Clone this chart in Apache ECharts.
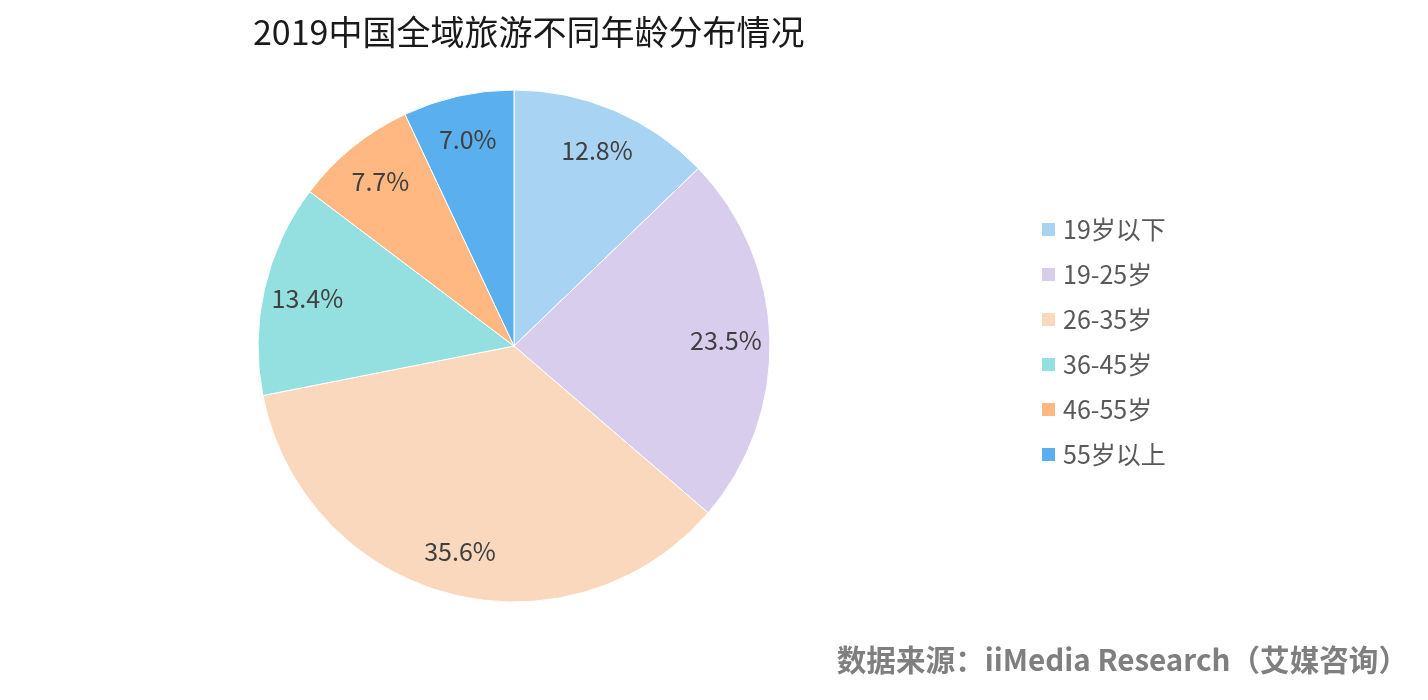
<!DOCTYPE html>
<html><head><meta charset="utf-8">
<script src="https://cdn.jsdelivr.net/npm/echarts@6/dist/echarts.min.js"></script>
<style>html,body{margin:0;padding:0;background:#fff}#c{width:1428px;height:700px}</style>
</head><body><div id="c"></div>
<script>
const categories = ['19岁以下','19-25岁','26-35岁','36-45岁','46-55岁','55岁以上'];
const values = [12.8, 23.5, 35.6, 13.4, 7.7, 7.0];
const colors = ['#A9D3F3','#D8CDEC','#FAD8BD','#94DFDF','#FFB882','#5AB0EE'];
const titleText = '2019中国全域旅游不同年龄分布情况';
const sourceText = '数据来源：iiMedia Research（艾媒咨询）';

const FONT = '"Noto Sans CJK SC", "Noto Sans", sans-serif';
const data = categories.map((n,i)=>({name:n, value:values[i], itemStyle:{color:colors[i]}}));
const chart = echarts.init(document.getElementById('c'));
chart.setOption({
  animation:false,
  textStyle:{fontFamily:FONT},
  title:[{text:titleText,left:248,top:10,textStyle:{fontFamily:FONT,fontSize:34,fontWeight:'normal',color:'#1a1a1a'}},
         {text:sourceText,right:15,top:640,textStyle:{fontFamily:FONT,fontSize:29.6,fontWeight:'bold',color:'#7f7f7f'}}],
  legend:{orient:'vertical',left:1035,top:212,itemWidth:15,itemHeight:15,itemGap:20,icon:'rect',
    data:categories,
    textStyle:{fontFamily:FONT,fontSize:25,color:'#595959',padding:[0,0,0,2]}},
  series:[
    {type:'pie',center:[514,346],radius:[0,256],startAngle:90,clockwise:true,
     label:{show:false},labelLine:{show:false},emphasis:{disabled:true},
     itemStyle:{borderColor:'#fff',borderWidth:1},data:data},
    {type:'pie',center:[514,346],radius:[162,256],startAngle:90,clockwise:true,silent:true,
     itemStyle:{color:'rgba(0,0,0,0)'},labelLine:{show:false},
     label:{show:true,position:'inside',formatter:p=>p.value.toFixed(1)+'%',fontFamily:FONT,fontSize:25,color:'#404040'},
     data:categories.map((n,i)=>({name:n,value:values[i]}))}
  ]
});
</script></body></html>
